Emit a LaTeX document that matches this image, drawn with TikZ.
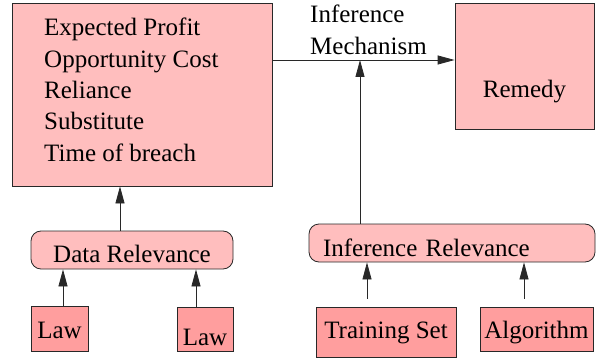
\documentclass[tikz,border=0pt]{standalone}
\usepackage{fontspec}
\setmainfont{Liberation Serif}
\usetikzlibrary{arrows.meta}
\definecolor{softpink}{RGB}{255,190,190}
\definecolor{deeppink}{RGB}{255,158,158}
\definecolor{edgegray}{RGB}{40,40,40}
\begin{document}
\begin{tikzpicture}[x=1pt,y=-1pt,
    font=\fontsize{25}{31.3}\selectfont,
    >={Triangle[length=17pt,width=9pt]},
    attrbox/.style={draw=edgegray,line width=0.8pt,fill=softpink,inner sep=0pt,text depth=6pt},
    relbox/.style={attrbox,rounded corners=10pt},
    leafbox/.style={attrbox,fill=deeppink}]
  \useasboundingbox (0,0) rectangle (601,358);
  \node[attrbox,minimum width=260pt,minimum height=183pt] (facts) at (142,94.5) {};
  \node[anchor=north west,inner sep=0pt,align=left] (factlist) at (44,18)
    {Expected Profit\\Opportunity Cost\\Reliance\\Substitute\\Time of breach};
  \node[attrbox,minimum width=139pt,minimum height=126pt,text height=70pt] (remedy) at (524.5,66) {Remedy};
  \node[anchor=north west,inner sep=0pt,align=left] (mechlabel) at (310,5) {Inference\\Mechanism};
  \coordinate (mech) at (360,60);
  \node[relbox,minimum width=202pt,minimum height=38pt,text height=30pt] (datarel) at (132,250) {Data Relevance};
  \node[relbox,minimum width=286pt,minimum height=38pt,text height=32pt,text width=258pt,align=left] (infrel) at (452,243) {Inference Relevance};
  \node[leafbox,minimum width=57pt,minimum height=45pt,text height=25pt] (lawa) at (59.5,328.5) {Law};
  \node[leafbox,minimum width=56pt,minimum height=44pt,text height=38pt] (lawb) at (205,329) {Law};
  \node[leafbox,minimum width=140pt,minimum height=50pt,text height=18pt] (trainset) at (386,332) {Training Set};
  \node[leafbox,minimum width=113pt,minimum height=44pt,text height=24pt] (algo) at (536.5,329) {Algorithm};
  \begin{scope}[->,draw=edgegray,line width=0.8pt]
    \draw (facts.east |- mech) -- (remedy.west |- mech);
    \draw (infrel.north -| mech) -- (mech);
    \draw ([xshift=-12pt]datarel.north) -- ([xshift=-12pt]datarel.north |- facts.south);
    \draw ([xshift=3.5pt]lawa.north) -- ([xshift=3.5pt]lawa.north |- datarel.south);
    \draw ([xshift=-9pt]lawb.north) -- ([xshift=-9pt]lawb.north |- datarel.south);
    \draw ([xshift=-19pt,yshift=8pt]trainset.north) -- ([xshift=-19pt]trainset.north |- infrel.south);
    \draw ([xshift=-12.5pt,yshift=8pt]algo.north) -- ([xshift=-12.5pt]algo.north |- infrel.south);
  \end{scope}
\end{tikzpicture}
\end{document}
